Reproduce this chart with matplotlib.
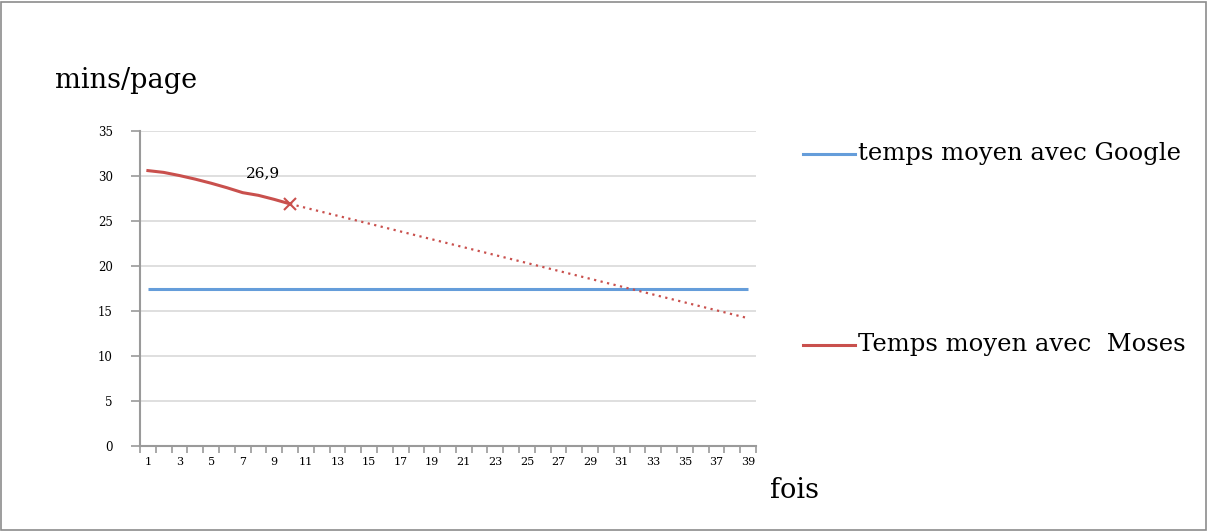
import numpy as np
import matplotlib
matplotlib.use("Agg")
import matplotlib.pyplot as plt
from matplotlib.patches import Rectangle

# data
fois = list(range(1, 40))
google_x = [1, 39]
google_y = [17.45, 17.45]
moses_x = [1, 2, 3, 4, 5, 6, 7, 8, 9, 10]
moses_y = [30.6, 30.4, 30.05, 29.65, 29.2, 28.7, 28.15, 27.85, 27.4, 26.9]
trend_x = [10, 39]
trend_y = [26.9, 14.2]
y_ticks = [0, 5, 10, 15, 20, 25, 30, 35]

blue = "#659dda"
red = "#c9504d"
axis_gray = "#9a9a9a"

plt.rcParams["font.family"] = ["DejaVu Serif"]

fig = plt.figure(figsize=(12.08, 5.31), dpi=100)
fig.patches.append(Rectangle((0.001, 0.002), 0.997, 0.995, transform=fig.transFigure,
                             fill=False, edgecolor="#8c8c8c", linewidth=1.2))

ax = fig.add_axes([140 / 1208, 1 - 446 / 531, 616 / 1208, 315 / 531])

ax.plot(google_x, google_y, color=blue, linewidth=2.2, solid_capstyle="butt", zorder=3)
ax.plot(moses_x, moses_y, color=red, linewidth=2.2, zorder=4)
ax.plot(trend_x, trend_y, color=red, linewidth=1.6, linestyle=(0, (1, 2)), zorder=4)
ax.plot(moses_x[-1], moses_y[-1], marker="x", color=red, markersize=8,
        markeredgewidth=1.5, zorder=5)
ax.annotate("26,9", (moses_x[-1], moses_y[-1]), xytext=(-19.5, 22),
            textcoords="offset points", ha="center", va="center", fontsize=11)

ax.set_xlim(0.5, 39.5)
ax.set_ylim(0, 35)
ax.set_yticks(y_ticks)
ax.set_xticks(fois[::2])
ax.set_xticks(np.arange(0.5, 40, 1), minor=True)
ax.tick_params(axis="x", which="major", length=0, pad=8, labelsize=8)
ax.tick_params(axis="x", which="minor", length=5, color=axis_gray, width=1.2)
ax.tick_params(axis="y", length=6.5, color=axis_gray, width=1.2, pad=13, labelsize=8.5)

ax.grid(axis="y", color="#dcdcdc", linewidth=1.3)
ax.set_axisbelow(True)
for side in ["top", "right"]:
    ax.spines[side].set_visible(False)
for side in ["left", "bottom"]:
    ax.spines[side].set_color(axis_gray)
    ax.spines[side].set_linewidth(1.5)

fig.text(55 / 1208, 1 - 80 / 531, "mins/page", fontsize=19.5, va="center", ha="left")
fig.text(770 / 1208, 1 - 490 / 531, "fois", fontsize=19.5, va="center", ha="left")

# legend drawn by hand at the right side
leg_items = [("temps moyen avec Google", blue, 154), ("Temps moyen avec  Moses", red, 345)]
for label, col, ypx in leg_items:
    yf = 1 - ypx / 531
    fig.add_artist(plt.Line2D([803 / 1208, 855 / 1208], [yf, yf], color=col,
                              linewidth=2.2, transform=fig.transFigure))
    fig.text(858 / 1208, yf, label, fontsize=17.5, va="center", ha="left")

fig.savefig("out.png", dpi=100)
